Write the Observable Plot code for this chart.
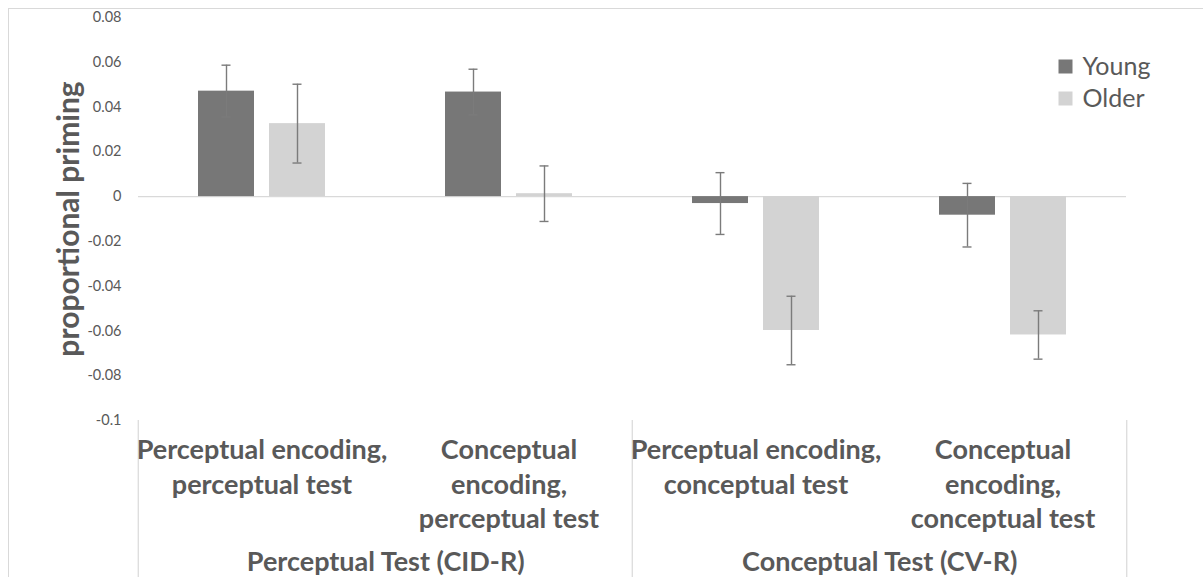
<!DOCTYPE html>
<html>
<head>
<meta charset="utf-8">
<script src="https://cdn.jsdelivr.net/npm/d3@7"></script>
<script src="https://cdn.jsdelivr.net/npm/@observablehq/plot@0.6"></script>
<style>
  html, body { margin: 0; padding: 0; background: #fff; }
  #chart { position: relative; width: 1203px; height: 577px; overflow: hidden; }
  #chart .edge {
    position: absolute; left: 8px; top: 8px; width: 1203px; height: 600px;
    border-left: 1px solid #d9d9d9; border-top: 1px solid #d9d9d9; box-sizing: border-box;
  }
  #chart svg { position: absolute; left: 0; top: 0; }
</style>
</head>
<body>
<div id="chart"><div class="edge"></div></div>
<script>
// Conditions (x categories), each belonging to one test group
const categories = [
  "Perceptual encoding,\nperceptual test",
  "Conceptual\nencoding,\nperceptual test",
  "Perceptual encoding,\nconceptual test",
  "Conceptual\nencoding,\nconceptual test"
];
const categoryGroup = [0, 0, 1, 1];
const groups = ["Perceptual Test (CID-R)", "Conceptual Test (CV-R)"];

// Age groups
const series = ["Young", "Older"];
const seriesColors = ["#777777", "#d3d3d3"];

// Mean proportional priming and error bar half-widths per condition
const youngMean = [0.0471, 0.0467, -0.0031, -0.0083];
const youngErr  = [0.0116, 0.0102, 0.0138, 0.0142];
const olderMean = [0.0326, 0.0013, -0.0598, -0.0618];
const olderErr  = [0.0176, 0.0124, 0.0153, 0.0108];

const yTicks = [-0.1, -0.08, -0.06, -0.04, -0.02, 0, 0.02, 0.04, 0.06, 0.08];
const yLabel = "proportional priming";

// Layout
const W = 1203, H = 577;
const mL = 137, mR = 76, mT = 17, mB = 157;
const facetW = (W - mL - mR) / categories.length;
const frameH = H - mT - mB;
const ink = "#595959";
const errInk = "#7b7b7b";
const gridInk = "#d9d9d9";
const font = "Lato, 'Open Sans', sans-serif";

const rows = categories.flatMap((c, i) => [
  {category: c, series: series[0], value: youngMean[i], err: youngErr[i]},
  {category: c, series: series[1], value: olderMean[i], err: olderErr[i]}
]);
const firstOfGroup = groups.map((g, gi) => categories[categoryGroup.indexOf(gi)]);
const lastCategory = categories[categories.length - 1];
const capInset = 23.5;

const chart = Plot.plot({
  width: W,
  height: H,
  marginLeft: mL,
  marginRight: mR,
  marginTop: mT,
  marginBottom: mB,
  style: {background: "transparent", fontFamily: font, fontSize: "14.5px", color: ink},
  fx: {domain: categories, padding: 0, axis: null},
  x: {domain: series, paddingInner: 0.21, paddingOuter: 0.84, axis: null},
  y: {domain: [-0.1, 0.08], ticks: yTicks, tickFormat: d => String(d), tickSize: 0, tickPadding: 17, label: null},
  color: {domain: series, range: seriesColors},
  marks: [
    // zero baseline
    Plot.ruleY([0], {stroke: gridInk, strokeWidth: 1.2}),
    // bars
    Plot.barY(rows, {fx: "category", x: "series", y: "value", fill: "series"}),
    // error bars with caps
    Plot.ruleX(rows, {fx: "category", x: "series", y1: d => d.value - d.err, y2: d => d.value + d.err, stroke: errInk, strokeWidth: 1.4}),
    Plot.tickY(rows, {fx: "category", x: "series", y: d => d.value - d.err, stroke: errInk, strokeWidth: 1.4, insetLeft: capInset, insetRight: capInset}),
    Plot.tickY(rows, {fx: "category", x: "series", y: d => d.value + d.err, stroke: errInk, strokeWidth: 1.4, insetLeft: capInset, insetRight: capInset}),
    // group dividers below the frame
    Plot.ruleX(firstOfGroup, {fx: d => d, x: null, dx: -facetW / 2, insetTop: frameH, insetBottom: -mB, stroke: gridInk, strokeWidth: 1.2}),
    Plot.ruleX([lastCategory], {fx: d => d, x: null, dx: facetW / 2, insetTop: frameH, insetBottom: -mB, stroke: gridInk, strokeWidth: 1.2}),
    // category labels
    Plot.text(categories, {fx: d => d, text: d => d, frameAnchor: "bottom", lineAnchor: "top", dy: 14, lineHeight: 1.28, fontSize: 27, fontWeight: "bold", fill: ink}),
    // group labels, centred across their two categories
    Plot.text(groups, {fx: (d, i) => firstOfGroup[i], frameAnchor: "bottom", lineAnchor: "middle", dx: facetW / 2, dy: 142, fontSize: 27, fontWeight: "bold", fill: ink}),
    // y axis title
    Plot.text([yLabel], {fx: () => categories[0], frameAnchor: "left", textAnchor: "middle", lineAnchor: "middle", rotate: -90, dx: -69, fontSize: 30, fontWeight: "bold", fill: ink}),
    // legend
    ...series.map((s, i) => Plot.dot([s], {fx: () => lastCategory, frameAnchor: "top-right", dx: -61, dy: 49 + i * 32, symbol: "square", r: 7.9, fill: d => d, stroke: null})),
    ...series.map((s, i) => Plot.text([s], {fx: () => lastCategory, frameAnchor: "top-right", dx: -44, dy: 49 + i * 32, textAnchor: "start", lineAnchor: "middle", fontSize: 25, fill: ink}))
  ]
});

document.getElementById("chart").appendChild(chart);
</script>
</body>
</html>
